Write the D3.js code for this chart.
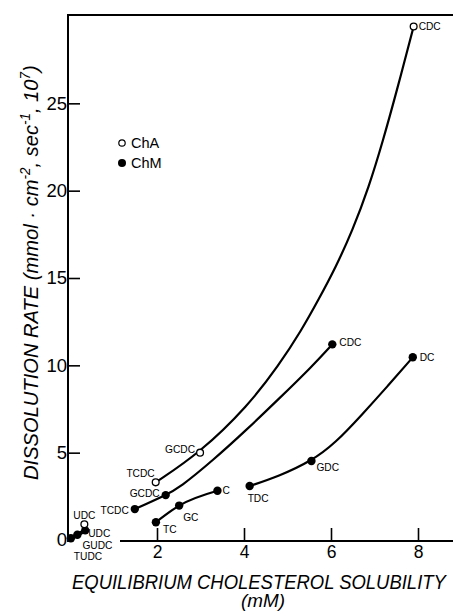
<!DOCTYPE html>
<html>
<head>
<meta charset="utf-8">
<script src="https://cdn.jsdelivr.net/npm/d3@7"></script>
<style>
  html, body { margin: 0; padding: 0; background: #fff; }
  svg { display: block; font-family: "Liberation Sans", Arial, sans-serif; }
</style>
</head>
<body>
<svg id="chart" width="453" height="612"></svg>
<script>
// ---------- data ----------
const xTicks = [2, 4, 6, 8];
const yTicks = [0, 5, 10, 15, 20, 25];
const legendItems = ["ChA", "ChM"];

// ChA (open circles)
const chaNames = ["UDC", "TCDC", "GCDC", "CDC"];
const chaX = [0.33, 1.97, 2.99, 7.9];
const chaY = [0.9, 3.3, 5.0, 29.4];

// ChM (filled circles)
const chmNames = ["TUDC", "GUDC", "UDC", "TCDC", "GCDC", "CDC", "TC", "GC", "C", "TDC", "GDC", "DC"];
const chmX = [0.02, 0.17, 0.35, 1.49, 2.2, 6.03, 1.975, 2.51, 3.39, 4.13, 5.55, 7.88];
const chmY = [0.1, 0.3, 0.55, 1.77, 2.57, 11.2, 1.02, 1.97, 2.82, 3.09, 4.52, 10.46];

// fitted curves drawn on the figure
const curveChA = [[1.97, 3.3], [2.99, 5.0], [4.1, 7.7], [4.8, 10.0], [5.32, 12.0],
                  [5.7, 13.7], [6.11, 15.62], [6.49, 17.7], [6.87, 20.2], [7.2, 22.9],
                  [7.5, 25.6], [7.9, 29.4]];
const curveChMCDC = [[1.49, 1.77], [2.2, 2.57], [2.52, 3.0], [3.29, 4.57], [4.05, 6.29], [4.81, 8.1],
                     [5.57, 9.95], [6.03, 11.2]];
const curveChMC = [[1.975, 1.02], [2.51, 1.97], [3.39, 2.82]];
const curveChMDC = [[4.13, 3.09], [4.81, 3.66], [5.55, 4.52], [6.1, 5.55], [6.72, 7.2], [7.3, 8.8], [7.88, 10.46]];
const curveChMUDC = [[0.02, 0.1], [0.17, 0.3], [0.35, 0.55]];

// ---------- label placement (pixel offsets, anchor) ----------
const chaLabelPos = {
  "UDC":  [0, -5, "middle"],
  "TCDC": [-1, -5, "end"],
  "GCDC": [-5, 0, "end"],
  "CDC":  [5, 4, "start"]
};
const chmLabelPos = {
  "TUDC": [3, 22, "start"],
  "GUDC": [5, 14, "start"],
  "UDC":  [3, 7, "start"],
  "TCDC": [-6, 5, "end"],
  "GCDC": [-6, 2, "end"],
  "CDC":  [7, 2, "start"],
  "TC":   [7, 11, "start"],
  "GC":   [4, 15, "start"],
  "C":    [5, 3, "start"],
  "TDC":  [-2, 16, "start"],
  "GDC":  [5, 10, "start"],
  "DC":   [7, 4, "start"]
};

// ---------- scales ----------
const svg = d3.select("#chart");
const x = d3.scaleLinear().domain([0, 8]).range([70, 418]);
const y = d3.scaleLinear().domain([0, 30]).range([540, 16]);
const axisX = 68, axisY = 541;

// frame lines
svg.append("line").attr("x1", axisX).attr("x2", 453).attr("y1", 15).attr("y2", 15)
  .attr("stroke", "#000").attr("stroke-width", 2);
svg.append("line").attr("x1", axisX).attr("x2", axisX).attr("y1", 14).attr("y2", axisY + 1)
  .attr("stroke", "#000").attr("stroke-width", 2);
svg.append("line").attr("x1", 120).attr("x2", 453).attr("y1", axisY).attr("y2", axisY)
  .attr("stroke", "#000").attr("stroke-width", 2);

// x axis
const gx = svg.append("g").attr("transform", `translate(0,${axisY})`)
  .call(d3.axisBottom(x).tickValues(xTicks).tickSize(-13).tickPadding(5).tickFormat(d3.format("d")));
gx.select(".domain").remove();
gx.selectAll(".tick line").attr("stroke", "#000").attr("stroke-width", 1.6);
gx.selectAll(".tick text").attr("font-size", "17.5px").attr("fill", "#000")
  .attr("font-family", "Liberation Sans, Arial, sans-serif").attr("dy", "0.71em");

// y axis
const gy = svg.append("g").attr("transform", `translate(${axisX},0)`)
  .call(d3.axisLeft(y).tickValues(yTicks).tickSize(-12).tickPadding(1).tickFormat(d3.format("d")));
gy.select(".domain").remove();
gy.selectAll(".tick line").attr("stroke", "#000").attr("stroke-width", 1.6)
  .filter(d => d === 0).remove();
gy.selectAll(".tick text").attr("font-size", "18.5px").attr("fill", "#000")
  .attr("font-family", "Liberation Sans, Arial, sans-serif");

// curves
const smooth = d3.line().x(d => x(d[0])).y(d => y(d[1])).curve(d3.curveBasis);
[curveChA, curveChMCDC, curveChMDC].forEach(c => {
  svg.append("path").attr("d", smooth(c)).attr("fill", "none")
    .attr("stroke", "#000").attr("stroke-width", 2.2);
});
svg.append("path")
  .attr("d", d3.line().x(d => x(d[0])).y(d => y(d[1])).curve(d3.curveMonotoneX)(curveChMC))
  .attr("fill", "none").attr("stroke", "#000").attr("stroke-width", 2.2);
svg.append("path").attr("d", d3.line().x(d => x(d[0])).y(d => y(d[1]))(curveChMUDC))
  .attr("fill", "none").attr("stroke", "#000").attr("stroke-width", 4).attr("stroke-linecap", "round");

// points
const cha = chaNames.map((n, i) => ({ name: n, x: chaX[i], y: chaY[i] }));
const chm = chmNames.map((n, i) => ({ name: n, x: chmX[i], y: chmY[i] }));

svg.append("g").selectAll("circle").data(chm).join("circle")
  .attr("cx", d => x(d.x)).attr("cy", d => y(d.y)).attr("r", 4.2).attr("fill", "#000");
svg.append("g").selectAll("circle").data(cha).join("circle")
  .attr("cx", d => x(d.x)).attr("cy", d => y(d.y)).attr("r", 3.4)
  .attr("fill", "#fff").attr("stroke", "#000").attr("stroke-width", 1.3);

// point labels
function labels(data, pos) {
  svg.append("g").selectAll("text").data(data).join("text")
    .attr("x", d => x(d.x) + pos[d.name][0])
    .attr("y", d => y(d.y) + pos[d.name][1])
    .attr("text-anchor", d => pos[d.name][2])
    .attr("font-size", "10.2px").attr("fill", "#000")
    .text(d => d.name);
}
labels(cha, chaLabelPos);
labels(chm, chmLabelPos);

// legend
const lg = svg.append("g");
legendItems.forEach((name, i) => {
  const cy = 143 + i * 20;
  lg.append("circle").attr("cx", 122).attr("cy", cy).attr("r", i === 0 ? 3.2 : 4)
    .attr("fill", i === 0 ? "#fff" : "#000").attr("stroke", "#000").attr("stroke-width", i === 0 ? 1.2 : 0);
  lg.append("text").attr("x", 131).attr("y", cy + 5).attr("font-size", "14.5px").text(name);
});

// axis titles (condensed by horizontal scaling to the reference width)
function condensed(sel, targetLen, tx, ty, rot) {
  const len = sel.node().getComputedTextLength();
  const s = Math.min(1, targetLen / len);
  sel.attr("transform", `translate(${tx},${ty}) rotate(${rot}) scale(${s},1)`);
}
const xt = svg.append("text").attr("x", 0).attr("y", 0)
  .attr("font-size", "20px").attr("font-style", "italic")
  .text("EQUILIBRIUM CHOLESTEROL SOLUBILITY");
condensed(xt, 374, 72, 589, 0);

const mm = svg.append("text").attr("x", 0).attr("y", 0)
  .attr("font-size", "19px").attr("font-style", "italic").attr("text-anchor", "middle")
  .text("(mM)");
condensed(mm, 44, 263, 607, 0);

const yt = svg.append("text").attr("x", 0).attr("y", 0)
  .attr("font-size", "21px").attr("font-style", "italic");
yt.append("tspan").text("DISSOLUTION RATE (mmol · cm");
yt.append("tspan").attr("dy", -8).attr("font-size", "14px").text("-2");
yt.append("tspan").attr("dy", 8).text(", sec");
yt.append("tspan").attr("dy", -8).attr("font-size", "14px").text("-1");
yt.append("tspan").attr("dy", 8).text(", 10");
yt.append("tspan").attr("dy", -8).attr("font-size", "14px").text("7");
yt.append("tspan").attr("dy", 8).text(")");
condensed(yt, 415, 37.5, 480, -90);
</script>
</body>
</html>
